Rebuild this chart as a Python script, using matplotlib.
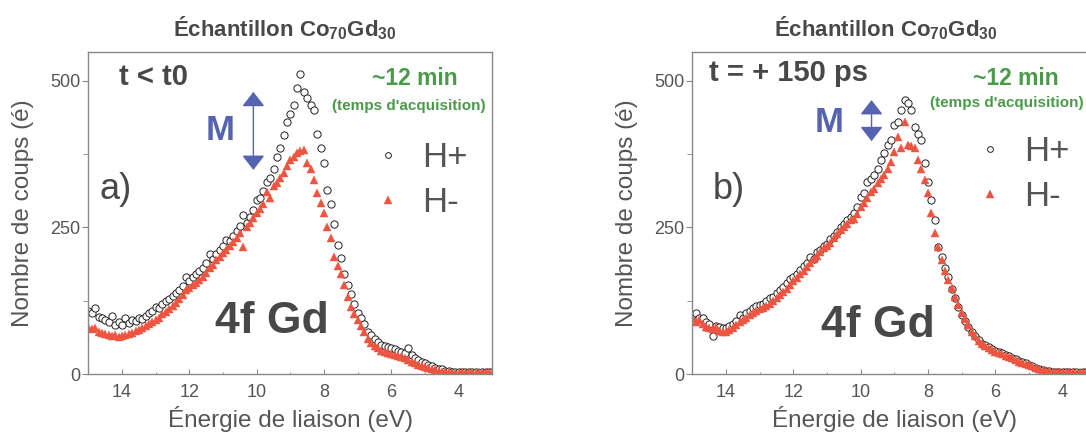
import numpy as np
import matplotlib
matplotlib.use('Agg')
import matplotlib.pyplot as plt
from matplotlib.ticker import MultipleLocator

plt.rcParams['font.family'] = 'Liberation Sans'
plt.rcParams['mathtext.fontset'] = 'custom'
plt.rcParams['mathtext.rm'] = 'Liberation Sans'
plt.rcParams['mathtext.bf'] = 'Liberation Sans:bold'

# binding energy grid (eV), from 15.0 down to 3.0 by 0.1
energy = np.round(np.arange(150, 29, -1) / 10.0, 1)

# panel a) t < t0
a_hplus = [108, 104, 113, 98, 96, 92, 89, 99, 84, 88,
           83, 95, 87, 92, 90, 96, 93, 99, 104, 108,
           114, 112, 120, 124, 128, 133, 138, 143, 150, 166,
           158, 165, 170, 176, 180, 189, 204, 196, 205, 212,
           218, 228, 226, 236, 244, 252, 271, 258, 268, 280,
           296, 300, 312, 328, 335, 350, 370, 385, 407, 430,
           444, 458, 487, 511, 481, 470, 458, 450, 410, 385,
           359, 314, 290, 255, 220, 198, 170, 152, 136, 120,
           104, 95, 86, 72, 66, 60, 55, 50, 48, 46,
           44, 42, 40, 38, 36, 44, 32, 27, 24, 20,
           18, 16, 13, 11, 9, 8, 6, 5, 4, 4,
           3, 4, 3, 3, 4, 3, 2, 3, 4, 3, 3]
a_hminus = [80, 76, 78, 72, 70, 68, 66, 64, 67, 63,
            64, 66, 68, 70, 73, 75, 78, 82, 85, 88,
            92, 96, 102, 106, 110, 116, 121, 128, 134, 143,
            147, 152, 156, 160, 166, 172, 180, 186, 194, 200,
            206, 212, 218, 225, 232, 240, 217, 250, 258, 266,
            274, 282, 290, 310, 300, 320, 325, 335, 342, 355,
            365, 370, 376, 380, 382, 359, 350, 330, 308, 292,
            274, 250, 232, 200, 185, 170, 152, 132, 115, 102,
            92, 82, 72, 60, 53, 48, 44, 40, 38, 36,
            34, 32, 30, 29, 27, 24, 20, 18, 16, 14,
            12, 10, 8, 7, 5, 4, 3, 3, 2, 2,
            2, 3, 2, 3, 2, 2, 3, 2, 3, 2, 2]

# panel b) t = +150 ps
b_hplus = [100, 104, 96, 95, 88, 85, 64, 82, 80, 78,
           78, 82, 86, 90, 100, 96, 104, 108, 112, 116,
           118, 120, 124, 129, 132, 138, 144, 149, 155, 162,
           166, 171, 178, 184, 190, 200, 196, 208, 211, 218,
           222, 231, 236, 242, 251, 255, 262, 268, 274, 284,
           302, 308, 328, 332, 340, 350, 365, 376, 390, 399,
           424, 430, 450, 467, 462, 450, 421, 410, 399, 359,
           328, 296, 262, 217, 200, 180, 166, 145, 130, 115,
           100, 90, 80, 72, 64, 58, 52, 49, 46, 42,
           40, 38, 35, 32, 30, 28, 25, 22, 20, 18,
           16, 14, 11, 9, 7, 6, 5, 4, 4, 3,
           3, 3, 4, 3, 3, 2, 3, 3, 4, 3, 3]
b_hminus = [95, 88, 92, 85, 80, 78, 76, 80, 74, 72,
            72, 75, 78, 84, 88, 92, 96, 100, 104, 108,
            110, 113, 116, 120, 125, 130, 134, 140, 145, 152,
            158, 163, 170, 176, 182, 190, 196, 202, 208, 214,
            218, 224, 232, 238, 245, 250, 255, 262, 265, 272,
            285, 292, 300, 310, 316, 325, 332, 340, 350, 362,
            379, 404, 385, 430, 390, 388, 385, 365, 350, 331,
            308, 274, 240, 216, 194, 176, 160, 146, 132, 118,
            104, 93, 84, 72, 64, 57, 52, 48, 45, 41,
            38, 36, 34, 31, 29, 27, 24, 21, 19, 17,
            15, 13, 11, 9, 7, 6, 5, 4, 3, 3,
            3, 2, 3, 3, 2, 3, 2, 3, 2, 3, 2]

red = '#ee5540'
dark = '#484848'
grey = '#555555'
green = '#4a9a4a'
blue = '#5563b0'

fig = plt.figure(figsize=(10.86, 4.34), dpi=100)

panels = [
    dict(left=0.0814, hp=a_hplus, hm=a_hminus, time='t < t0', time_x=14.08, time_y=506,
         letter='a)', letter_x=14.67, m_x=11.08, m_y=416, arr_x=10.10, arr_y=(481, 348),
         min_x=5.29, acq_x=5.49, acq_ha='center', acq_y=457, gd_x=9.55, gd_y=90,
         leg=(0.6985, 0.6025), title_x=0.2624),
    dict(left=0.6376, hp=b_hplus, hm=b_hminus, time='t = + 150 ps', time_x=14.51, time_y=513,
         letter='b)', letter_x=14.39, m_x=10.93, m_y=429, arr_x=9.68, arr_y=(467, 397),
         min_x=5.40, acq_x=7.93, acq_ha='left', acq_y=462, gd_x=9.48, gd_y=83,
         leg=(0.6936, 0.621), title_x=0.8158),
]

for p in panels:
    ax = fig.add_axes([p['left'], 0.1382, 0.372, 0.742])
    ax.plot(energy, p['hp'], 'o', ms=5.2, mfc='white', mec='#222222', mew=0.7, label='H+')
    ax.plot(energy, p['hm'], '^', ms=6.4, color=red, mec=red, mew=0.3, label='H-')
    ax.set_xlim(15, 3)
    ax.set_ylim(0, 549)
    ax.set_xticks([14, 12, 10, 8, 6, 4])
    ax.set_yticks([0, 250, 500])
    ax.xaxis.set_minor_locator(MultipleLocator(1))
    ax.yaxis.set_minor_locator(MultipleLocator(125))
    for s in ax.spines.values():
        s.set_color('#888888')
        s.set_linewidth(1)
    ax.tick_params(axis='x', which='both', direction='in', colors='#888888',
                   labelcolor=grey, labelsize=13, pad=7)
    ax.tick_params(axis='x', which='major', length=3.6)
    ax.tick_params(axis='x', which='minor', length=1.8)
    ax.tick_params(axis='y', which='both', direction='out', colors='#888888',
                   labelcolor=grey, labelsize=13, pad=1.5)
    ax.tick_params(axis='y', which='major', length=4.5)
    ax.tick_params(axis='y', which='minor', length=3.5)
    ax.set_xlabel('Énergie de liaison (eV)', fontsize=17.5, color=grey)
    ax.set_ylabel('Nombre de coups (é)', fontsize=17.5, color=grey)
    ax.xaxis.set_label_coords(0.5, -0.1)
    ax.yaxis.set_label_coords(-0.135, 0.5)

    ax.text(p['time_x'], p['time_y'], p['time'], fontsize=21, fontweight='bold',
            color=dark, ha='left', va='center')
    ax.text(p['letter_x'], 315, p['letter'], fontsize=26, color=dark, ha='left', va='center')
    ax.text(p['m_x'], p['m_y'], 'M', fontsize=25, fontweight='bold', color=blue,
            ha='center', va='center')
    ax.annotate('', xy=(p['arr_x'], p['arr_y'][0]), xytext=(p['arr_x'], p['arr_y'][1]),
                arrowprops=dict(arrowstyle='<|-|>,head_length=0.45,head_width=0.35',
                                color=blue, lw=1, mutation_scale=20,
                                shrinkA=0, shrinkB=0))
    ax.text(p['min_x'], 504, '~12 min', fontsize=16.5, fontweight='bold', color=green,
            ha='center', va='center')
    ax.text(p['acq_x'], p['acq_y'], "(temps d'acquisition)", fontsize=11, fontweight='bold',
            color=green, ha=p['acq_ha'], va='center', clip_on=False)
    ax.text(p['gd_x'], p['gd_y'], '4f Gd', fontsize=32, fontweight='bold', color=dark,
            ha='center', va='center')
    ax.legend(loc='center left', bbox_to_anchor=p['leg'], frameon=False, fontsize=25,
              handlelength=1.0, handletextpad=0.48, labelspacing=0.35, borderpad=0,
              borderaxespad=0, markerscale=0.8, labelcolor=grey)

    fig.text(p['title_x'], 0.9355, r'Échantillon Co$_{\mathbf{70}}$Gd$_{\mathbf{30}}$',
             fontsize=16, fontweight='bold', color=dark, ha='center', va='center')

fig.savefig('out.png', dpi=100)
